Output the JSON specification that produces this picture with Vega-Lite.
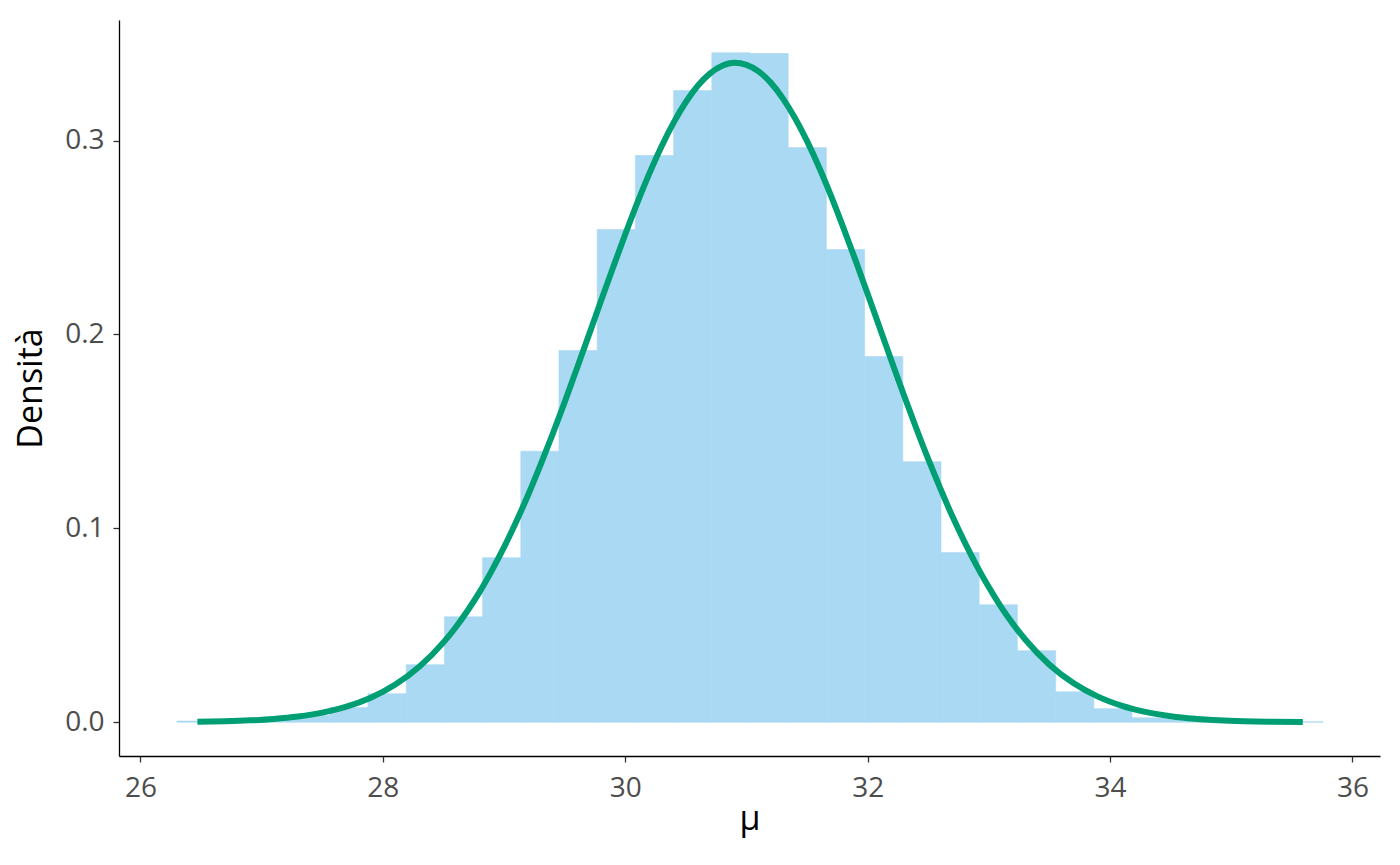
{
  "$schema": "https://vega.github.io/schema/vega-lite/v6.json",
  "width": 1261,
  "height": 736,
  "autosize": {"type": "none"},
  "padding": {"left": 119, "top": 20, "right": 20, "bottom": 109},
  "background": "white",
  "config": {
    "view": {"stroke": null},
    "axis": {
      "grid": false,
      "domainColor": "black",
      "domainWidth": 1.3,
      "tickColor": "#333333",
      "tickSize": 6,
      "tickWidth": 1.3,
      "labelColor": "#4D4D4D",
      "labelFont": "Open Sans",
      "labelFontSize": 28,
      "titleFont": "Open Sans",
      "titleFontSize": 34,
      "titleFontWeight": "normal",
      "titleColor": "black"
    }
  },
  "datasets": {
    "bins": [
      {"x0": 26.301, "x1": 26.616, "density": 0.0006},
      {"x0": 26.616, "x1": 26.931, "density": 0.0008},
      {"x0": 26.931, "x1": 27.247, "density": 0.0016},
      {"x0": 27.247, "x1": 27.562, "density": 0.0036},
      {"x0": 27.562, "x1": 27.877, "density": 0.0076},
      {"x0": 27.877, "x1": 28.193, "density": 0.0147},
      {"x0": 28.193, "x1": 28.508, "density": 0.0297},
      {"x0": 28.508, "x1": 28.823, "density": 0.0544},
      {"x0": 28.823, "x1": 29.138, "density": 0.0849},
      {"x0": 29.138, "x1": 29.453, "density": 0.1398},
      {"x0": 29.453, "x1": 29.768, "density": 0.1917},
      {"x0": 29.768, "x1": 30.083, "density": 0.2541},
      {"x0": 30.083, "x1": 30.399, "density": 0.2923},
      {"x0": 30.399, "x1": 30.714, "density": 0.3258},
      {"x0": 30.714, "x1": 31.029, "density": 0.3453},
      {"x0": 31.029, "x1": 31.344, "density": 0.3449},
      {"x0": 31.344, "x1": 31.659, "density": 0.2964},
      {"x0": 31.659, "x1": 31.975, "density": 0.2438},
      {"x0": 31.975, "x1": 32.290, "density": 0.1886},
      {"x0": 32.290, "x1": 32.605, "density": 0.1344},
      {"x0": 32.605, "x1": 32.920, "density": 0.0875},
      {"x0": 32.920, "x1": 33.235, "density": 0.0606},
      {"x0": 33.235, "x1": 33.551, "density": 0.0369},
      {"x0": 33.551, "x1": 33.866, "density": 0.0157},
      {"x0": 33.866, "x1": 34.181, "density": 0.0070},
      {"x0": 34.181, "x1": 34.496, "density": 0.0023},
      {"x0": 34.496, "x1": 34.811, "density": 0.0012},
      {"x0": 34.811, "x1": 35.127, "density": 0.0006},
      {"x0": 35.127, "x1": 35.442, "density": 0.0003},
      {"x0": 35.442, "x1": 35.757, "density": 0.0003}
    ],
    "curve": [
      {"x": 26.47, "density": 0.000263},
      {"x": 26.7, "density": 0.000543},
      {"x": 26.9, "density": 0.000986},
      {"x": 27.1, "density": 0.00174},
      {"x": 27.3, "density": 0.00298},
      {"x": 27.5, "density": 0.00497},
      {"x": 27.7, "density": 0.00804},
      {"x": 27.9, "density": 0.01265},
      {"x": 28.1, "density": 0.0193},
      {"x": 28.3, "density": 0.02861},
      {"x": 28.5, "density": 0.04122},
      {"x": 28.6, "density": 0.0489},
      {"x": 28.7, "density": 0.05765},
      {"x": 28.8, "density": 0.0674},
      {"x": 28.9, "density": 0.07837},
      {"x": 29.0, "density": 0.0903},
      {"x": 29.1, "density": 0.1034},
      {"x": 29.2, "density": 0.1175},
      {"x": 29.3, "density": 0.1326},
      {"x": 29.4, "density": 0.1485},
      {"x": 29.5, "density": 0.1651},
      {"x": 29.6, "density": 0.1823},
      {"x": 29.7, "density": 0.1998},
      {"x": 29.8, "density": 0.2174},
      {"x": 29.9, "density": 0.2347},
      {"x": 30.0, "density": 0.2517},
      {"x": 30.1, "density": 0.268},
      {"x": 30.2, "density": 0.2832},
      {"x": 30.3, "density": 0.2971},
      {"x": 30.4, "density": 0.3094},
      {"x": 30.5, "density": 0.3199},
      {"x": 30.6, "density": 0.3284},
      {"x": 30.7, "density": 0.3347},
      {"x": 30.8, "density": 0.3386},
      {"x": 30.9, "density": 0.3401},
      {"x": 31.0, "density": 0.3391},
      {"x": 31.1, "density": 0.3357},
      {"x": 31.2, "density": 0.3299},
      {"x": 31.3, "density": 0.3218},
      {"x": 31.4, "density": 0.3117},
      {"x": 31.5, "density": 0.2997},
      {"x": 31.6, "density": 0.2861},
      {"x": 31.7, "density": 0.2711},
      {"x": 31.8, "density": 0.255},
      {"x": 31.9, "density": 0.2382},
      {"x": 32.0, "density": 0.2209},
      {"x": 32.1, "density": 0.2033},
      {"x": 32.2, "density": 0.1858},
      {"x": 32.3, "density": 0.1685},
      {"x": 32.4, "density": 0.1518},
      {"x": 32.5, "density": 0.1357},
      {"x": 32.6, "density": 0.1205},
      {"x": 32.7, "density": 0.1061},
      {"x": 32.8, "density": 0.0929},
      {"x": 32.9, "density": 0.0807},
      {"x": 33.0, "density": 0.0696},
      {"x": 33.1, "density": 0.0595},
      {"x": 33.2, "density": 0.0506},
      {"x": 33.3, "density": 0.0427},
      {"x": 33.5, "density": 0.02971},
      {"x": 33.7, "density": 0.02011},
      {"x": 33.9, "density": 0.01321},
      {"x": 34.1, "density": 0.00843},
      {"x": 34.3, "density": 0.00522},
      {"x": 34.5, "density": 0.00315},
      {"x": 34.7, "density": 0.00184},
      {"x": 34.9, "density": 0.00104},
      {"x": 35.1, "density": 0.000577},
      {"x": 35.3, "density": 0.000309},
      {"x": 35.59, "density": 0.000119}
    ]
  },
  "layer": [
    {
      "data": {"name": "bins"},
      "mark": {"type": "rect", "fill": "#AAD9F3", "stroke": "#AAD9F3", "strokeWidth": 0.6},
      "encoding": {
        "x": {
          "field": "x0",
          "type": "quantitative",
          "scale": {"domain": [25.823, 36.227], "nice": false, "zero": false},
          "axis": {"values": [26, 28, 30, 32, 34, 36], "format": "d", "title": "μ", "labelPadding": 12, "titlePadding": 0}
        },
        "x2": {"field": "x1"},
        "y": {
          "field": "density",
          "type": "quantitative",
          "scale": {"domain": [-0.0174, 0.3622], "nice": false, "zero": false},
          "axis": {"values": [0, 0.1, 0.2, 0.3], "format": ".1f", "title": "Densità", "labelPadding": 9, "titlePadding": 16}
        },
        "y2": {"datum": 0}
      }
    },
    {
      "data": {"name": "curve"},
      "mark": {"type": "line", "color": "#009E73", "strokeWidth": 6, "strokeCap": "butt", "interpolate": "monotone"},
      "encoding": {
        "x": {"field": "x", "type": "quantitative"},
        "y": {"field": "density", "type": "quantitative"}
      }
    }
  ]
}
